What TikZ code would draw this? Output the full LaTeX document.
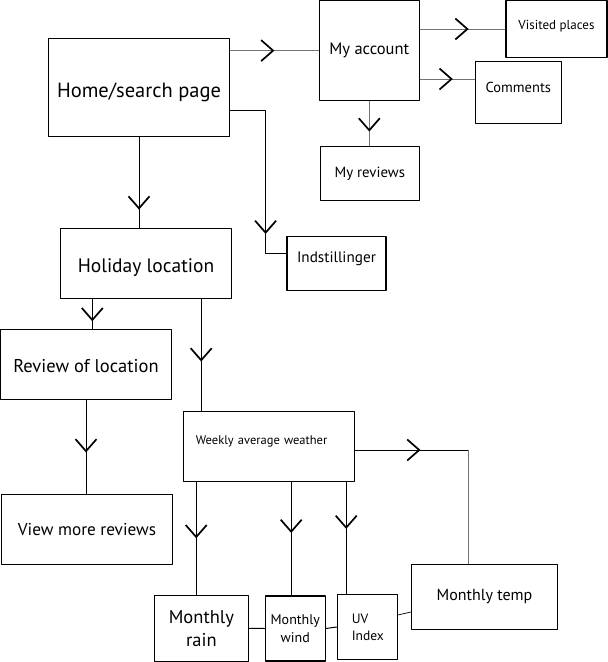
\documentclass[tikz,border=0pt]{standalone}
\usepackage{fontspec}
\setmainfont{PT Sans}
\usetikzlibrary{arrows.meta,decorations.markings}
\tikzset{
  box/.style={draw, line width=1.1pt, inner sep=0pt, align=center},
  link/.style={line width=1pt},
  grey/.style={link, draw=black!55},
  arr/.style={postaction={decorate, decoration={markings,
        mark=at position #1 with {\arrow[black]{Straight Barb[length=12pt,width=21pt,line width=1.7pt]}}}}}
}
\newcommand{\fs}[1]{\fontsize{#1}{#1}\selectfont}
\begin{document}
\begin{tikzpicture}[x=1pt, y=-1pt, line join=round]
  \useasboundingbox (0,0) rectangle (608,662);
  %% Boxes
  \node[box, minimum width=181pt, minimum height=98pt, text height=25pt, font=\fs{20.5}] (home) at (139,87.5) {Home/search page};
  \node[box, minimum width=100pt, minimum height=100pt, font=\fs{16.5}] (account) at (369.3,50.6) {My account};
  \node[box, minimum width=101pt, minimum height=57pt, text depth=9pt, font=\fs{13}] (visited) at (556.5,29) {Visited places};
  \node[box, minimum width=86pt, minimum height=62pt, text depth=10pt, font=\fs{14.5}] (comments) at (518.3,92.4) {Comments};
  \node[box, minimum width=99pt, minimum height=54pt, font=\fs{14.8}] (myreviews) at (369.8,173.4) {My reviews};
  \node[box, minimum width=171pt, minimum height=70pt, text height=22pt, font=\fs{19.5}] (holiday) at (146,263.3) {Holiday location};
  \node[box, minimum width=99pt, minimum height=54pt, text depth=13pt, font=\fs{15.2}] (indst) at (336.5,263.2) {Indstillinger};
  \node[box, minimum width=171pt, minimum height=70pt, text height=17pt, font=\fs{18.5}] (review) at (86,364.3) {Review of location};
  \node[box, minimum width=171pt, minimum height=70pt, text depth=13pt, text width=146pt, align=left, font=\fs{12.5}] (weekly) at (268.9,446.3) {Weekly average weather};
  \node[box, minimum width=171pt, minimum height=70pt, font=\fs{17.2}] (view) at (87,529.3) {View more reviews};
  \node[box, minimum width=146pt, minimum height=65pt, font=\fs{16}] (temp) at (484.5,596.8) {Monthly temp};
  \node[box, minimum width=94pt, minimum height=66pt, font=\fontsize{18.5}{23}\selectfont] (rain) at (201.4,628.3) {Monthly\\rain};
  \node[box, minimum width=60pt, minimum height=65pt, font=\fontsize{14}{17.5}\selectfont] (wind) at (295.3,628.5) {Monthly\\wind};
  \node[box, minimum width=60pt, minimum height=65pt, align=left, text width=31pt, font=\fontsize{13.5}{17}\selectfont] (uv) at (367.3,627) {UV\\Index};
  %% Account branch
  \draw[grey, arr=0.5] (home.east |- account.west) -- (account.west);
  \draw[grey, arr=0.57] (account.east |- visited.west) -- (visited.west);
  \draw[grey, arr=0.6] (account.east |- 0,79) -- (comments.west |- 0,79);
  \draw[grey, arr=0.68] (account.south) -- (account.south |- myreviews.north);
  %% Home
  \draw[link, arr=0.8] (home.south) -- (home.south |- holiday.north);
  \draw[link, arr=0.8] (home.east |- 0,110) -- (265.6,110) -- (265.6,253) -- (indst.west |- 0,253);
  %% Holiday location
  \draw[link, arr=0.75] (holiday.south -| 92.3,0) -- (review.north -| 92.3,0);
  \draw[link, arr=0.56] (holiday.south -| 201.2,0) -- (weekly.north -| 201.2,0);
  \draw[link, arr=0.56] (review.south) -- (review.south |- view.north);
  %% Weather
  \draw[link, arr=0.5] (weekly.south -| 196.2,0) -- (rain.north -| 196.2,0);
  \draw[link, arr=0.45] (weekly.south -| 291.2,0) -- (wind.north -| 291.2,0);
  \draw[link, arr=0.42] (weekly.south -| 346.2,0) -- (uv.north -| 346.2,0);
  \draw[link, arr=0.58] (weekly.east |- 0,450) -- (468,450);
  \draw[grey] (468,450) -- (temp.north -| 468,0);
  \draw[link] (rain.east) -- (wind.west);
  \draw[link] (wind.east) -- (uv.west);
  \draw[link, line width=0.7pt] (uv.east |- 0,615) -- (temp.west |- 0,612);
\end{tikzpicture}
\end{document}
